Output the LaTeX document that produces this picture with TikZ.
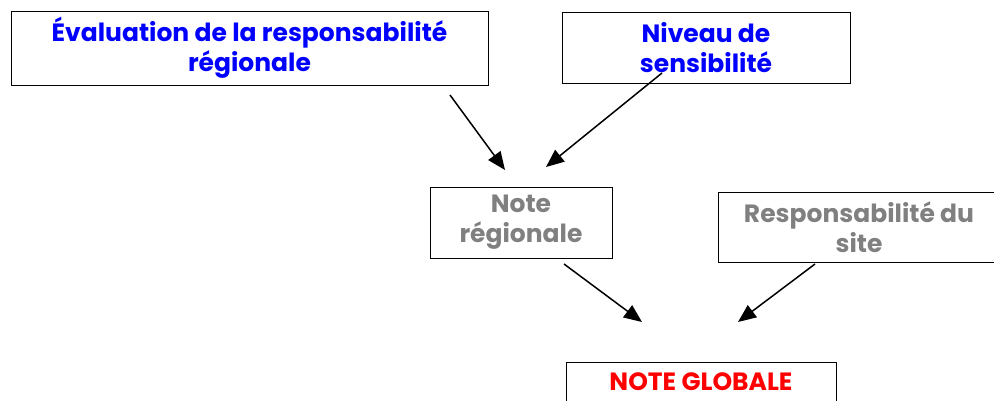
\documentclass[tikz,border=0pt]{standalone}
\usepackage{fontspec}
\setmainfont{Poppins}
\usepackage{tikz}
\usetikzlibrary{arrows.meta}
\definecolor{titleblue}{RGB}{0,0,255}
\definecolor{notegray}{RGB}{128,128,128}
\definecolor{notered}{RGB}{255,0,0}

\begin{document}
\begin{tikzpicture}[x=1pt,y=-1pt,
    box/.style={draw,line width=0.9pt,inner sep=0pt,align=center,
      font=\bfseries\fontsize{25}{30}\selectfont},
    link/.style={-{Triangle[length=18pt,width=15pt]},line width=1.5pt}]
    \useasboundingbox (0,0) rectangle (994,401);
    \node[box,text=titleblue,minimum width=477pt,minimum height=74pt] (eval) at (249.5,48)
      {Évaluation de la responsabilité\\régionale};
    \node[box,text=titleblue,minimum width=288pt,minimum height=71pt] (niveau) at (706,47.5)
      {Niveau de\\sensibilité};
    \node[box,text=notegray,minimum width=182pt,minimum height=71pt] (noteReg) at (521,222.5)
      {Note\\régionale};
    \node[box,text=notegray,minimum width=282pt,minimum height=70pt] (respSite) at (859,227)
      {Responsabilité du\\site};
    \node[box,text=notered,minimum width=270pt,anchor=north,text height=28pt,text depth=32pt]
      (global) at (701,362) {NOTE GLOBALE};
    \coordinate (evalOut) at (450,95);
    \coordinate (niveauOut) at (662,73);
    \coordinate (noteIn1) at (505,170);
    \coordinate (noteIn2) at (546,167);
    \coordinate (noteOut) at (564,264);
    \coordinate (siteOut) at (815,264);
    \coordinate (globalIn1) at (642,322);
    \coordinate (globalIn2) at (738,322);
    \draw[link] (evalOut) -- (noteIn1);
    \draw[link] (niveauOut) -- (noteIn2);
    \draw[link] (noteOut) -- (globalIn1);
    \draw[link] (siteOut) -- (globalIn2);
\end{tikzpicture}
\end{document}
